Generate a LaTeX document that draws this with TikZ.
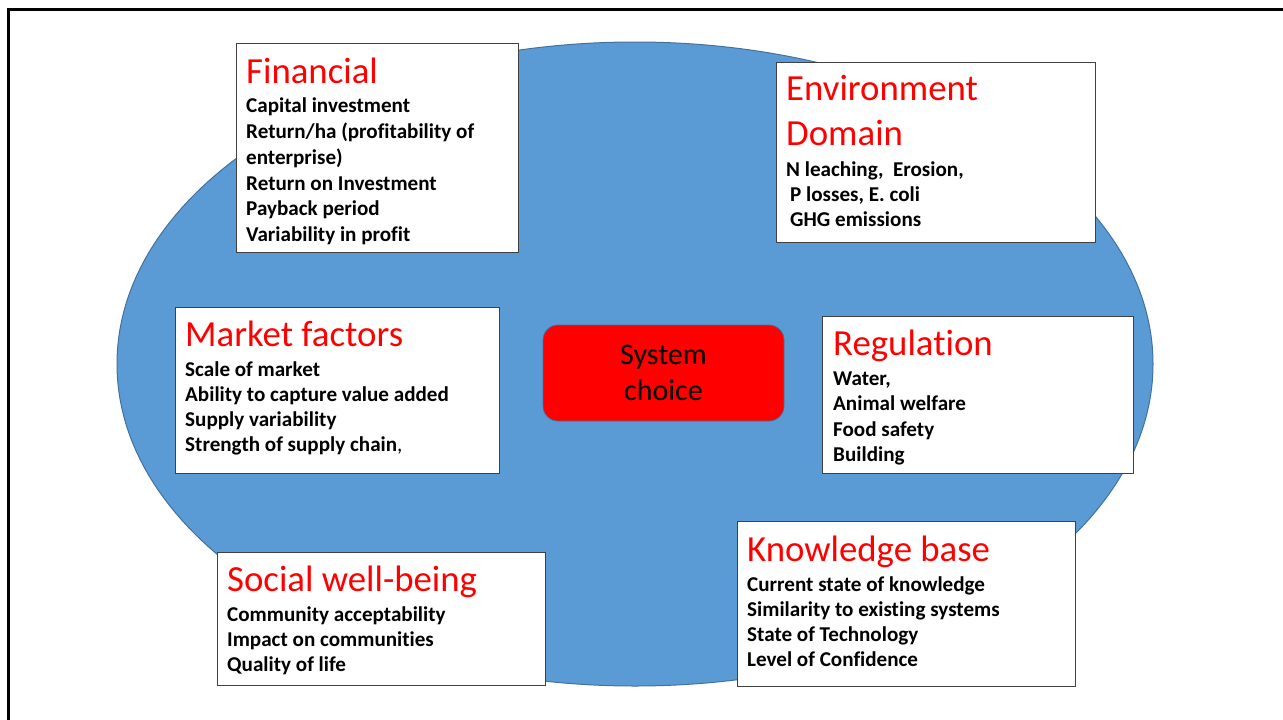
\documentclass[tikz,border=0pt]{standalone}
\usepackage{fontspec}
\setmainfont[Ligatures={NoCommon}]{Carlito}
\definecolor{ellfill}{HTML}{5B9BD5}
\definecolor{ellline}{HTML}{41719C}
\definecolor{headred}{HTML}{FF0000}
\tikzset{
  infobox/.style={draw=black!75, line width=1pt, fill=white, anchor=north west, inner sep=0pt, outer sep=0pt},
  headtxt/.style={anchor=base west, inner sep=0pt, text=headred, font=\fontsize{36.8}{44}\selectfont},
  bodytxt/.style={anchor=base west, inner sep=0pt, font=\fontsize{21.1}{25.6}\selectfont\bfseries},
  choicebox/.style={draw=ellline, line width=0.8pt, fill=headred, rounded corners=15pt, minimum width=241pt, minimum height=96pt, inner sep=0pt, align=center, font=\fontsize{30}{36.7}\selectfont},
  frameline/.style={line width=3pt, draw=black}
}
\begin{document}
\begin{tikzpicture}[x=1pt,y=-1pt]
\useasboundingbox (0,0) rectangle (1283,720);
% frame
\draw[frameline] (8.5,721) -- (8.5,9.5) -- (1284,9.5);
% ellipse
\draw[fill=ellfill, draw=ellline, line width=1pt] (635,364) ellipse [x radius=518, y radius=322];

% Financial
\node[infobox, minimum width=282pt, minimum height=209pt] (fin) at (236,43) {};
\node[headtxt] (finh) at (246,83) {Financial};
\foreach \t [count=\i from 0] in {Capital investment, Return/ha (profitability of, enterprise), Return on Investment, Payback period, Variability in profit}
  \node[bodytxt] (fin\i) at (246,112.7+25.8*\i) {\t};

% Environment
\node[infobox, minimum width=319pt, minimum height=180pt] (env) at (776,62) {};
\node[headtxt] (envh1) at (786,100) {Environment};
\node[headtxt] (envh2) at (786,145.7) {Domain};
\node[bodytxt] (env0) at (786,176.7) {N leaching,\ \ Erosion,};
\node[bodytxt] (env1) at (790,201.7) {P losses, E. coli};
\node[bodytxt] (env2) at (790,226.7) {GHG emissions};

% Market factors
\node[infobox, minimum width=324pt, minimum height=166pt] (mkt) at (175,307) {};
\node[headtxt] (mkth) at (185,346.7) {Market factors};
\foreach \t [count=\i from 0] in {Scale of market, Ability to capture value added, Supply variability, {Strength of supply chain\textmd{,}}}
  \node[bodytxt] (mkt\i) at (185,376+25.3*\i) {\t};

% Regulation
\node[infobox, minimum width=311pt, minimum height=157pt] (reg) at (822,316) {};
\node[headtxt] (regh) at (833,355) {Regulation};
\foreach \t [count=\i from 0] in {{Water,}, Animal welfare, Food safety, Building}
  \node[bodytxt] (reg\i) at (833,385+25.6*\i) {\t};

% Social well-being
\node[infobox, minimum width=328pt, minimum height=133pt] (soc) at (217,552) {};
\node[headtxt] (soch) at (227,591.7) {Social well-being};
\foreach \t [count=\i from 0] in {Community acceptability, Impact on communities, Quality of life}
  \node[bodytxt] (soc\i) at (227,621+25.4*\i) {\t};

% Knowledge base
\node[infobox, minimum width=338pt, minimum height=165pt] (kno) at (737,521) {};
\node[headtxt] (knoh) at (747,561) {Knowledge base};
\foreach \t [count=\i from 0] in {Current state of knowledge, Similarity to existing systems, State of Technology, Level of Confidence}
  \node[bodytxt] (kno\i) at (747,591+25.3*\i) {\t};

% System choice
\node[choicebox] (sys) at (663.5,373) {\raisebox{-3pt}{System}\\\raisebox{-3pt}{choice}};
\end{tikzpicture}
\end{document}
